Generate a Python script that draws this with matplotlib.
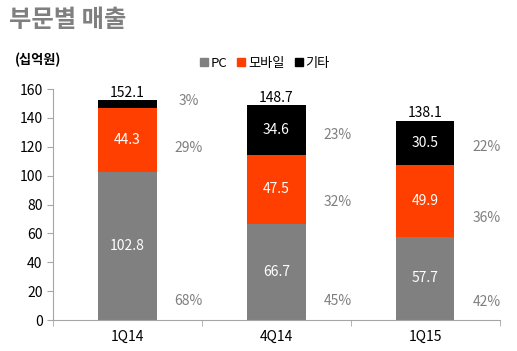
import numpy as np
import matplotlib
matplotlib.use("Agg")
import matplotlib.pyplot as plt
from matplotlib.patches import Rectangle

plt.rcParams['font.family'] = ['Noto Sans CJK KR', 'DejaVu Sans']

# Data
quarters = ["1Q14", "4Q14", "1Q15"]
pc = [102.8, 66.7, 57.7]
mobile = [44.3, 47.5, 49.9]
other = [5.0, 34.6, 30.5]
totals = [152.1, 148.7, 138.1]
pc_pct = ["68%", "45%", "42%"]
mobile_pct = ["29%", "32%", "36%"]
other_pct = ["3%", "23%", "22%"]

# layout of percent labels (data y)
pc_pct_y = [13, 13, 12.5]
mobile_pct_y = [119, 82, 71]
other_pct_y = [151.5, 128, 120]

c_pc = "#808080"
c_mob = "#ff3f00"
c_oth = "#000000"
axis_c = "#a6a6a6"

fig = plt.figure(figsize=(5.17, 3.51), dpi=100)
ax = fig.add_axes([0.1025, 0.0883, 0.8645, 0.6581])

x = np.arange(len(quarters))
w = 0.39
ax.bar(x, pc, w, color=c_pc)
ax.bar(x, mobile, w, bottom=pc, color=c_mob)
bot2 = np.array(pc) + np.array(mobile)
ax.bar(x, other, w, bottom=bot2, color=c_oth)

for i in range(len(x)):
    ax.text(x[i], pc[i] / 2, f"{pc[i]:.1f}", color="white", ha="center", va="center", fontsize=10)
    ax.text(x[i], pc[i] + mobile[i] / 2, f"{mobile[i]:.1f}", color="white", ha="center", va="center", fontsize=10)
    if i > 0:
        ax.text(x[i], bot2[i] + other[i] / 2, f"{other[i]:.1f}", color="white", ha="center", va="center", fontsize=10)
    ax.text(x[i], totals[i] + 0.5, f"{totals[i]:.1f}", color="black", ha="center", va="bottom", fontsize=10)
    px = x[i] + 0.41
    ax.text(px, pc_pct_y[i], pc_pct[i], color="#7f7f7f", ha="center", va="center", fontsize=10)
    ax.text(px, mobile_pct_y[i], mobile_pct[i], color="#7f7f7f", ha="center", va="center", fontsize=10)
    ax.text(px, other_pct_y[i], other_pct[i], color="#7f7f7f", ha="center", va="center", fontsize=10)

ax.set_xlim(-0.5, 2.5)
ax.set_ylim(0, 160)
ax.set_yticks(np.arange(0, 161, 20))
ax.set_xticks(x)
ax.set_xticklabels(quarters)
ax.set_xticks([-0.5, 0.5, 1.5, 2.5], minor=True)
ax.tick_params(axis="x", which="major", length=0, labelsize=10, pad=7)
ax.tick_params(axis="x", which="minor", length=4, color=axis_c)
ax.tick_params(axis="y", length=4, color=axis_c, labelsize=10)
for s in ["top", "right"]:
    ax.spines[s].set_visible(False)
for s in ["left", "bottom"]:
    ax.spines[s].set_color(axis_c)

fig.text(0.017, 0.943, "부문별 매출", fontsize=17.5, fontweight="bold", color="#7f7f7f", va="center")
fig.text(0.028, 0.83, "(십억원)", fontsize=9.5, fontweight="bold", color="black", va="center")

# legend
handles = [Rectangle((0, 0), 1, 1, color=c) for c in (c_pc, c_mob, c_oth)]
fig.legend(handles, ["PC", "모바일", "기타"], loc="center", bbox_to_anchor=(0.512, 0.82),
           ncol=3, frameon=False, fontsize=9.5, handlelength=0.6, handleheight=0.6,
           handletextpad=0.2, columnspacing=0.8)

fig.savefig("out.png", dpi=100)
